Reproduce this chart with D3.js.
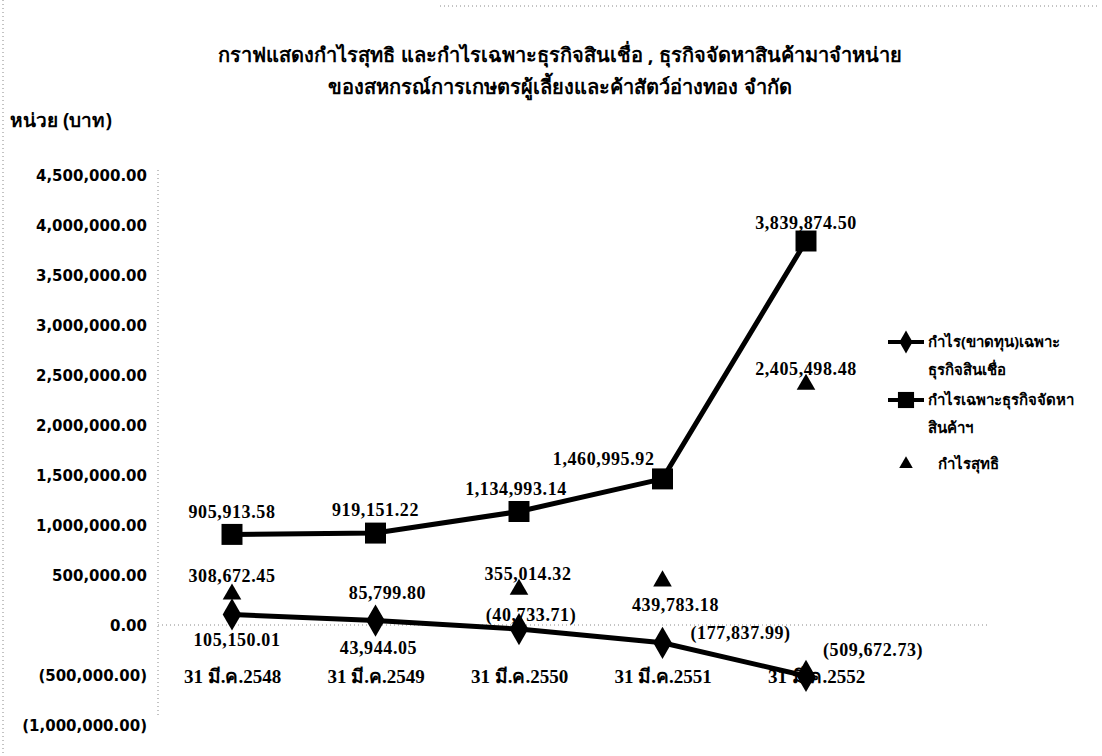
<!DOCTYPE html>
<meta charset="utf-8">
<head>
	<script src="https://d3js.org/d3.v7.min.js"></script>
	<style>
		body {
			margin: 0;
			background: #fff;
		}
		.title {
			font-family: "Noto Sans", "DejaVu Sans", sans-serif;
			font-weight: bold;
			font-size: 20px;
			fill: #000;
		}
		.tick-label {
			font-family: "DejaVu Sans", sans-serif;
			font-weight: bold;
			font-size: 15px;
			fill: #000;
		}
		.val {
			font-family: "Liberation Serif", serif;
			font-weight: bold;
			font-size: 18px;
			letter-spacing: 0.6px;
			fill: #000;
		}
		.cat {
			font-family: "Liberation Serif", "Noto Sans", serif;
			font-weight: bold;
			font-size: 19px;
			fill: #000;
		}
		.legend text {
			font-family: "Noto Sans", sans-serif;
			font-weight: bold;
			font-size: 15px;
			fill: #000;
		}
		.dotted {
			stroke: #888;
			stroke-width: 1;
			stroke-dasharray: 1,3;
			fill: none;
		}
	</style>
</head>

<body>
	<div id="chart"></div>
</body>

<script type="text/javascript">

	var categories = ["31 มี.ค.2548", "31 มี.ค.2549", "31 มี.ค.2550", "31 มี.ค.2551", "31 มี.ค.2552"];
	var creditProfit = [105150.01, 43944.05, -40733.71, -177837.99, -509672.73];
	var supplyProfit = [905913.58, 919151.22, 1134993.14, 1460995.92, 3839874.50];
	var netProfit = [308672.45, 85799.80, 355014.32, 439783.18, 2405498.48];
	var yTicks = [4500000, 4000000, 3500000, 3000000, 2500000, 2000000, 1500000, 1000000, 500000, 0, -500000, -1000000];
	var seriesNames = [
		["กำไร(ขาดทุน)เฉพาะ", "ธุรกิจสินเชื่อ"],
		["กำไรเฉพาะธุรกิจจัดหา", "สินค้าฯ"],
		["กำไรสุทธิ"]
	];
	var titleLines = [
		"กราฟแสดงกำไรสุทธิ และกำไรเฉพาะธุรกิจสินเชื่อ , ธุรกิจจัดหาสินค้ามาจำหน่าย",
		"ของสหกรณ์การเกษตรผู้เลี้ยงและค้าสัตว์อ่างทอง จำกัด"
	];
	var unitLabel = "หน่วย (บาท)";

	// where each value label sits relative to its marker [dx, dy, anchor]
	var creditLabelPos = [[5, 25, "middle"], [3, 27, "middle"], [12, -14, "middle"], [28, -10, "start"], [17, -26, "start"]];
	var supplyLabelPos = [[0, -23, "middle"], [0, -23, "middle"], [-3, -23, "middle"], [-8, -20, "end"], [0, -18, "middle"]];
	var netLabelPos = [[0, -18, "middle"], [12, -24, "middle"], [9, -16, "middle"], [13, 24, "middle"], [0, -16, "middle"]];

	var W = 1102, H = 756;

	var svg = d3.select("#chart").append("svg")
		.attr("width", W)
		.attr("height", H);

	var x = d3.scalePoint()
		.domain(categories)
		.range([232, 806]);

	var y = d3.scaleLinear()
		.domain([-1000000, 4500000])
		.range([725, 175]);

	var fmt = d3.format(",.2f");
	function money(v) {
		return v < 0 ? "(" + fmt(-v) + ")" : fmt(v);
	}

	// scanned page borders
	svg.append("line").attr("class", "dotted")
		.attr("x1", 3).attr("x2", 3).attr("y1", 0).attr("y2", H);
	svg.append("line").attr("class", "dotted")
		.attr("x1", 440).attr("x2", 1100).attr("y1", 6).attr("y2", 6);

	// title
	svg.selectAll(".title")
		.data(titleLines)
		.enter().append("text")
		.attr("class", "title")
		.attr("x", 560)
		.attr("y", function(d, i) { return 62 + i * 32; })
		.style("text-anchor", "middle")
		.text(function(d) { return d; });

	svg.append("text")
		.attr("class", "title")
		.attr("x", 10)
		.attr("y", 127)
		.style("font-size", "19px")
		.text(unitLabel);

	// y axis
	var yAxis = d3.axisLeft(y)
		.tickValues(yTicks)
		.tickSize(0)
		.tickPadding(10)
		.tickFormat(money);

	var yaxis = svg.append("g")
		.attr("transform", "translate(158,0)")
		.call(yAxis);

	yaxis.select(".domain")
		.attr("class", "dotted")
		.attr("d", "M0," + (y(4500000) - 5) + "V" + (y(-1000000) - 10));

	yaxis.selectAll("text")
		.attr("class", "tick-label")
		.attr("x", -11)
		.attr("dy", "0.35em");

	// zero line
	svg.append("line").attr("class", "dotted")
		.attr("x1", 158).attr("x2", 990)
		.attr("y1", y(0)).attr("y2", y(0));

	// category labels (x axis with no line)
	var xAxis = d3.axisBottom(x).tickSize(0).tickPadding(0);
	var xaxis = svg.append("g")
		.attr("transform", "translate(0," + 676 + ")")
		.call(xAxis);
	xaxis.select(".domain").remove();
	xaxis.selectAll("text")
		.attr("class", "cat")
		.attr("dy", "0.35em")
		.attr("dx", function(d, i) { return i == 4 ? 10 : 0; });

	var line = d3.line()
		.x(function(d, i) { return x(categories[i]); })
		.y(function(d) { return y(d); });

	function drawLine(values) {
		svg.append("path")
			.datum(values)
			.attr("d", line)
			.style("fill", "none")
			.style("stroke", "#000")
			.style("stroke-width", 5);
	}

	drawLine(supplyProfit);
	drawLine(creditProfit);

	var sq = d3.symbol().type(d3.symbolSquare).size(440);
	var dia = d3.symbol().type(d3.symbolDiamond).size(300);
	var tri = d3.symbol().type(d3.symbolTriangle).size(150);

	function drawMarks(values, sym) {
		svg.append("g").selectAll("path")
			.data(values)
			.enter().append("path")
			.attr("d", sym)
			.attr("transform", function(d, i) { return "translate(" + x(categories[i]) + "," + y(d) + ")"; })
			.style("fill", "#000");
	}

	drawMarks(netProfit, tri);
	drawMarks(supplyProfit, sq);
	drawMarks(creditProfit, dia);

	function drawLabels(values, pos) {
		svg.append("g").selectAll("text")
			.data(values)
			.enter().append("text")
			.attr("class", "val")
			.attr("x", function(d, i) { return x(categories[i]) + pos[i][0]; })
			.attr("y", function(d, i) { return y(d) + pos[i][1]; })
			.attr("dy", "0.35em")
			.style("text-anchor", function(d, i) { return pos[i][2]; })
			.text(money);
	}

	drawLabels(creditProfit, creditLabelPos);
	drawLabels(supplyProfit, supplyLabelPos);
	drawLabels(netProfit, netLabelPos);

	// legend
	var legendY = [342, 400, 464];
	var legend = svg.append("g")
		.attr("class", "legend")
		.selectAll("g")
		.data(seriesNames)
		.enter().append("g")
		.attr("transform", function(d, i) { return "translate(888," + legendY[i] + ")"; });

	legend.filter(function(d, i) { return i < 2; })
		.append("line")
		.attr("x1", 0).attr("x2", 36)
		.style("stroke", "#000")
		.style("stroke-width", 4);

	legend.append("path")
		.attr("transform", "translate(18,0)")
		.attr("d", function(d, i) {
			return [d3.symbol().type(d3.symbolDiamond).size(150)(),
				d3.symbol().type(d3.symbolSquare).size(260)(),
				d3.symbol().type(d3.symbolTriangle).size(80)()][i];
		})
		.style("fill", "#000");

	legend.selectAll("text")
		.data(function(d) { return d; })
		.enter().append("text")
		.attr("x", function(d, i, n) { return n.length == 1 ? 50 : 40; })
		.attr("y", function(d, i) { return i * 28; })
		.attr("dy", "0.35em")
		.text(function(d) { return d; });

</script>
